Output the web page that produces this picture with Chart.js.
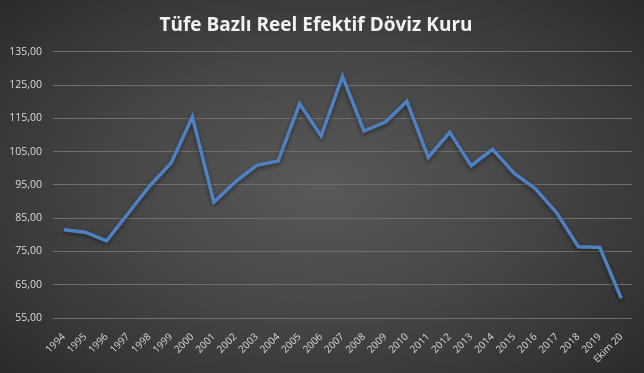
<!DOCTYPE html>
<html>
<head>
<meta charset="utf-8">
<script src="https://cdn.jsdelivr.net/npm/chart.js@4/dist/chart.umd.min.js"></script>
<style>
  html, body { margin: 0; padding: 0; }
  body { width: 644px; height: 373px; overflow: hidden; }
  #wrap {
    width: 644px; height: 373px; position: relative;
    background: radial-gradient(ellipse 75% 80% at 50% 50%, #595959 0%, #454545 45%, #262626 100%);
  }
</style>
</head>
<body>
<div id="wrap"><canvas id="c" width="644" height="373"></canvas></div>
<script>
const years = ['1994','1995','1996','1997','1998','1999','2000','2001','2002','2003','2004','2005','2006','2007',
    '2008','2009','2010','2011','2012','2013','2014','2015','2016','2017','2018','2019','Ekim 20'];
const reer = [81.5, 80.8, 78.2, 86.4, 94.6, 101.5, 115.4, 89.8, 95.9, 100.9, 102.2, 119.4, 109.7, 127.6,
    111.2, 113.9, 120.1, 103.3, 110.8, 100.8, 105.7, 98.5, 93.8, 86.5, 76.4, 76.2, 60.9];
const yMin = 55, yMax = 135, yStep = 10;

const chartTitle = 'Tüfe Bazlı Reel Efektif Döviz Kuru';

// soft shadow under the line, like the office chart
const lineShadow = {
    id: 'lineShadow',
    beforeDatasetsDraw(chart) {
        const ctx = chart.ctx;
        ctx.save();
        ctx.shadowColor = 'rgba(0,0,0,0.45)';
        ctx.shadowBlur = 4;
        ctx.shadowOffsetY = 2;
    },
    afterDatasetsDraw(chart) {
        chart.ctx.restore();
    }
};

new Chart(document.getElementById('c'), {
    type: 'line',
    data: {
        labels: years,
        datasets: [{
            data: reer,
            borderColor: '#4f81c2',
            borderWidth: 3.5,
            pointRadius: 0,
            tension: 0,
            fill: false
        }]
    },
    options: {
        responsive: false,
        animation: false,
        layout: { padding: { left: 0, right: 12, top: 0, bottom: 0 } },
        plugins: {
            legend: { display: false },
            tooltip: { enabled: false },
            title: {
                display: true,
                text: chartTitle,
                color: '#f2f2f2',
                font: { family: 'Open Sans', size: 19, weight: 'bold' },
                padding: { top: 14, bottom: 15 }
            }
        },
        scales: {
            x: {
                offset: true,
                grid: { display: false },
                border: { display: false },
                ticks: {
                    color: '#d9d9d9',
                    font: { family: 'Open Sans', size: 10 },
                    minRotation: 45,
                    maxRotation: 45,
                    autoSkip: false,
                    padding: 5
                },
                afterFit(scale) { scale.height = 55; }
            },
            y: {
                min: yMin,
                max: yMax,
                grid: { color: '#6e6e6e', lineWidth: 1, drawTicks: false },
                border: { display: false },
                ticks: {
                    stepSize: yStep,
                    color: '#d9d9d9',
                    font: { family: 'Open Sans', size: 10.5 },
                    padding: 11,
                    callback: v => v.toFixed(2).replace('.', ',')
                },
                afterFit(scale) { scale.width = 53; }
            }
        }
    },
    plugins: [lineShadow]
});
</script>
</body>
</html>
